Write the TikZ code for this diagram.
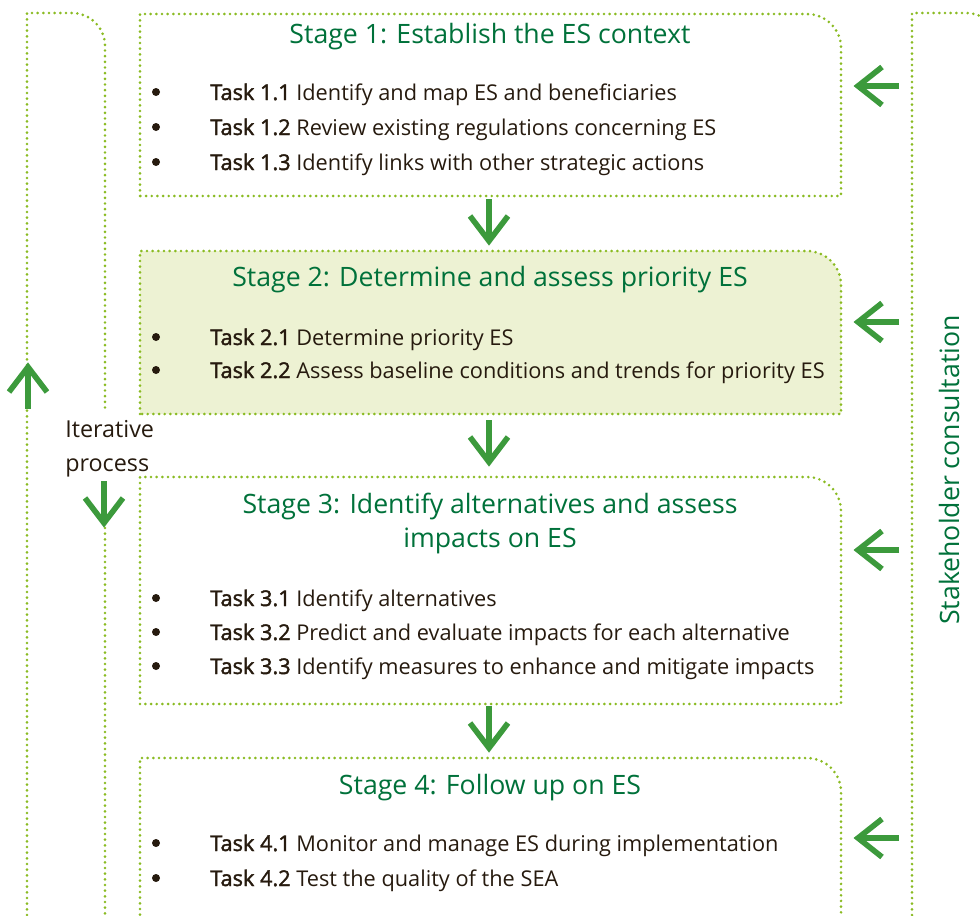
\documentclass[tikz,border=0pt]{standalone}
\usepackage{fontspec}
\setmainfont{Open Sans}
\newfontfamily\medfont[FakeBold=1.8]{Open Sans}
\definecolor{dotgreen}{HTML}{8ABB22}
\definecolor{arrgreen}{HTML}{3C9A3C}
\definecolor{titlegreen}{HTML}{00713A}
\definecolor{txtdark}{HTML}{261A0E}
\definecolor{paleg}{HTML}{EDF2D3}
\tikzset{
  dotline/.style={draw=dotgreen, line width=2.2pt, line cap=round, dash pattern=on 0pt off 4.25pt},
  bigarrow/.style={draw=arrgreen, line width=4.2pt, miter limit=10},
  stagetitle/.style={anchor=base, text=titlegreen, font=\fontsize{20}{25}\selectfont, inner sep=0pt},
  tasktext/.style={anchor=base west, text=txtdark, font=\fontsize{16.3}{18}\selectfont, inner sep=0pt},
  bulletdot/.style={circle, fill=txtdark, inner sep=0pt, minimum size=6pt},
  plaintext/.style={anchor=base west, text=txtdark, font=\fontsize{17.5}{20}\selectfont, inner sep=0pt},
}
\newcommand{\dnarrow}[2]{% x, ytop
  \draw[bigarrow] (#1,#2) -- ++(0,42);
  \draw[bigarrow] (#1-19,#2+17) -- (#1,#2+42) -- (#1+19,#2+17);}
\begin{document}
\begin{tikzpicture}[x=0.75pt,y=-0.75pt]
\useasboundingbox (0,0) rectangle (980,915);
\clip (0,0) rectangle (980,915);
% left iterative bar
\draw[dotline] (27,915) -- (27,410);
\draw[dotline] (27,365) -- (27,13) -- (72,13) arc[start angle=-90, end angle=0, radius=33] -- (105,412);
\draw[dotline] (105,528) -- (105,915);
% right stakeholder bar
\draw[dotline] (912,915) -- (912,13) -- (966,13) arc[start angle=-90, end angle=0, radius=34] -- (1000,915);
% stage boxes
\draw[dotline] (140,196) -- (140,14) -- (807,14) arc[start angle=-90, end angle=0, radius=34] -- (841,196) -- cycle;
\fill[paleg] (140,414) -- (140,251) -- (807,251) arc[start angle=-90, end angle=0, radius=34] -- (841,414) -- cycle;
\draw[dotline] (140,414) -- (140,251) -- (807,251) arc[start angle=-90, end angle=0, radius=34] -- (841,414) -- cycle;
\draw[dotline] (140,704) -- (140,477) -- (807,477) arc[start angle=-90, end angle=0, radius=34] -- (841,704) -- cycle;
\draw[dotline] (140,960) -- (140,758) -- (807,758) arc[start angle=-90, end angle=0, radius=34] -- (841,960);
% titles
\node[stagetitle] (t1) at (490,43) {Stage 1: Establish the ES context};
\node[stagetitle] (t2) at (490,286) {Stage 2: Determine and assess priority ES};
\node[stagetitle] (t3a) at (490,513) {Stage 3: Identify alternatives and assess};
\node[stagetitle] (t3b) at (490,547) {impacts on ES};
\node[stagetitle] (t4) at (490,794) {Stage 4: Follow up on ES};
% tasks
\foreach \y/\n/\t in {100/1.1/Identify and map ES and beneficiaries,
                      135/1.2/Review existing regulations concerning ES,
                      170/1.3/Identify links with other strategic actions,
                      345/2.1/Determine priority ES,
                      378/2.2/Assess baseline conditions and trends for priority ES,
                      606/3.1/Identify alternatives,
                      640/3.2/Predict and evaluate impacts for each alternative,
                      674/3.3/Identify measures to enhance and mitigate impacts,
                      851/4.1/Monitor and manage ES during implementation,
                      886/4.2/Test the quality of the SEA}{
  \node[bulletdot] (b\n) at (156,\y-8) {};
  \node[tasktext] (k\n) at (210,\y) {{\medfont Task \n} \t};
}
% iterative process text
\node[plaintext] (it) at (65,437) {Iterative};
\node[plaintext] (pr) at (65,471) {process};
% stakeholder
\node[rotate=90, anchor=base, text=titlegreen, font=\fontsize{20}{22}\selectfont, inner sep=0pt] (sc) at (959,470) {Stakeholder consultation};
% down arrows
\dnarrow{489}{199}
\dnarrow{489}{420}
\dnarrow{489}{706}
\dnarrow{104}{481}
% up arrow
\draw[bigarrow] (28,409) -- (28,367);
\draw[bigarrow] (9,392) -- (28,367) -- (47,392);
% left arrows
\foreach \y in {86,322,550,838}{
  \draw[bigarrow] (899,\y) -- (858,\y);
  \draw[bigarrow] (882,\y-19) -- (858,\y) -- (882,\y+19);
}
\end{tikzpicture}
\end{document}
